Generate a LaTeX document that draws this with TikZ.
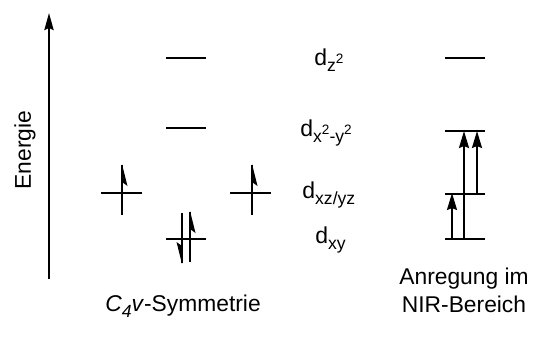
\documentclass[tikz,border=0pt]{standalone}
\usepackage{fontspec}
\setmainfont{Liberation Sans}
\usetikzlibrary{arrows.meta}
\newcommand{\osub}[1]{\raisebox{-0.5ex}{\fontsize{8.8}{8.8}\selectfont #1}}
\newcommand{\osup}[1]{\raisebox{0.8ex}{\fontsize{6.8}{6.8}\selectfont #1}}
\begin{document}
\begin{tikzpicture}[x=0.5pt,y=-0.5pt,
  level/.style={line width=0.8pt},
  spin/.style={line width=0.9pt},
  trans/.style={line width=1pt,-{Stealth[length=8.5pt,width=5pt,inset=1pt]}},
  axisline/.style={line width=1pt,-{Stealth[length=8.5pt,width=4.6pt,inset=1pt]}},
  lbl/.style={inner sep=0pt,anchor=base west,font=\fontsize{11.5}{13.6}\selectfont},
  captxt/.style={inner sep=0pt,font=\fontsize{11.4}{13.7}\selectfont}]
\useasboundingbox (0,0) rectangle (535,344);
% energy axis
\coordinate (ax0) at (49,279);
\coordinate (ax1) at (49,13);
\draw[axisline] (ax0) -- (ax1);
\node[captxt,rotate=90,anchor=base] (energie) at (31,150) {Energie};
% C4v levels
\coordinate (mz1) at (166,58);  \coordinate (mz2) at (206,58);
\coordinate (mx1) at (166,128); \coordinate (mx2) at (206,128);
\coordinate (my1) at (166,239); \coordinate (my2) at (206,239);
\draw[level] (mz1) -- (mz2);
\draw[level] (mx1) -- (mx2);
\draw[level] (my1) -- (my2);
% left dxz level with spin
\coordinate (l1) at (101,193); \coordinate (l2) at (142,193);
\coordinate (lb) at (122,215); \coordinate (lt) at (122,165);
\draw[level] (l1) -- (l2);
\draw[spin] (lb) -- (lt);
\fill (122,164) -- (127.5,186) -- (122,182) -- cycle;
% right dyz level with spin
\coordinate (r1) at (230,193); \coordinate (r2) at (271,193);
\coordinate (rb) at (252,215); \coordinate (rt) at (252,165);
\draw[level] (r1) -- (r2);
\draw[spin] (rb) -- (rt);
\fill (252,164) -- (257.5,186) -- (252,182) -- cycle;
% paired spins on dxy
\coordinate (dt) at (182,213); \coordinate (db) at (182,263);
\coordinate (ub) at (190,262); \coordinate (ut) at (190,212);
\draw[spin] (dt) -- (db);
\fill (182,264) -- (176.5,242) -- (182,246) -- cycle;
\draw[spin] (ub) -- (ut);
\fill (190,211) -- (195.5,233) -- (190,229) -- cycle;
% orbital labels
\node[lbl] (tz) at (314,65) {d\osub{z\osup{2}}};
\node[lbl] (tx) at (300,136) {d\osub{x\osup{2}-y\osup{2}}};
\node[lbl] (txz) at (302,198) {d\osub{xz/yz}};
\node[lbl] (txy) at (315,243) {d\osub{xy}};
% right column levels
\coordinate (Rz1) at (445,58);  \coordinate (Rz2) at (485,58);
\coordinate (Rx1) at (445,131); \coordinate (Rx2) at (485,131);
\coordinate (Rm1) at (445,194); \coordinate (Rm2) at (485,194);
\coordinate (Ry1) at (445,239); \coordinate (Ry2) at (485,239);
\draw[level] (Rz1) -- (Rz2);
\draw[level] (Rx1) -- (Rx2);
\draw[level] (Rm1) -- (Rm2);
\draw[level] (Ry1) -- (Ry2);
% transitions
\coordinate (a1s) at (452,239); \coordinate (a1e) at (452,193);
\coordinate (a2s) at (464,239); \coordinate (a2e) at (464,131);
\coordinate (a3s) at (477,194); \coordinate (a3e) at (477,131);
\draw[trans] (a1s) -- (a1e);
\draw[trans] (a2s) -- (a2e);
\draw[trans] (a3s) -- (a3e);
% captions
\node[captxt,anchor=base west] (sym) at (105,311) {\textit{C\osub{4}v}-Symmetrie};
\node[captxt,anchor=base,align=center] (nir) at (464,312) {Anregung im\\NIR-Bereich};
\end{tikzpicture}
\end{document}
